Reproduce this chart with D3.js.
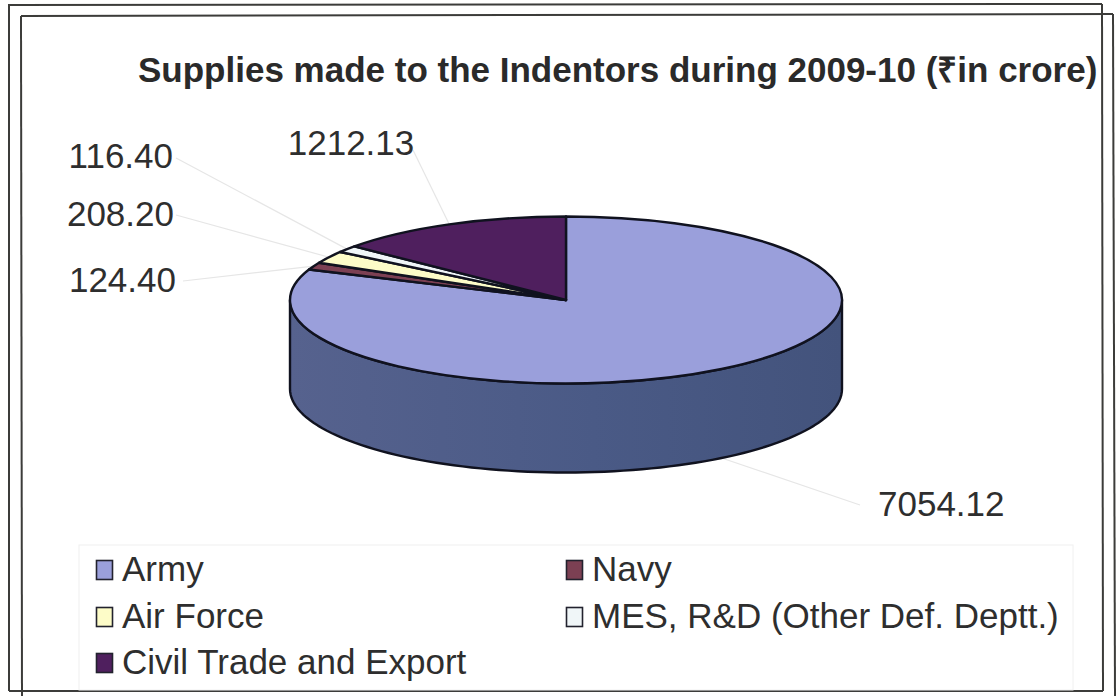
<!DOCTYPE html>
<html>
<head>
<meta charset="utf-8">
<script src="https://cdn.jsdelivr.net/npm/d3@7"></script>
<style>
  html, body { margin: 0; padding: 0; background: #fff; overflow: hidden; }
  svg { display: block; font-family: "Liberation Sans", Arial, sans-serif; }
</style>
</head>
<body>
<svg id="chart" width="1116" height="696"></svg>
<script>
// Supplies by indentor, in crore of rupees
const categories = ["Army", "Navy", "Air Force", "MES, R&D (Other Def. Deptt.)", "Civil Trade and Export"];
const values = [7054.12, 124.40, 208.20, 116.40, 1212.13];
const valueLabels = ["7054.12", "124.40", "208.20", "116.40", "1212.13"];
const topColors = ["#9a9fdb", "#7c4053", "#fdfcc8", "#f0f6f8", "#4f1f5e"];
const titleText = "Supplies made to the Indentors during 2009-10 (₹in crore)";

// Disc geometry
const cx = 566, cy = 300, rx = 276, ry = 83.5, depth = 89;
const outline = "#10121f";

// Where each value label sits and where its leader stops
const labelLayout = [
  { x: 878, y: 516, anchor: "start", lx: 860, ly: 505 },
  { x: 176, y: 292, anchor: "end", lx: 183, ly: 281 },
  { x: 174, y: 226, anchor: "end", lx: 176, ly: 215 },
  { x: 173, y: 168, anchor: "end", lx: 176, ly: 158 },
  { x: 351, y: 155, anchor: "middle", lx: 413, ly: 150 }
];
// Legend cells: column x and row baseline
const legendCols = [96, 566];
const legendRows = [581, 628, 674];
const legendCells = [[0, 0], [1, 0], [0, 1], [1, 1], [0, 2]];

const svg = d3.select("#chart");

// Hand-ruled double frame
const frameLines = [
  [8, 5, 1102, 4], [1102, 4, 1103, 691], [9, 5, 9, 691], [9, 691, 1103, 691],
  [21, 16, 1113, 14], [21, 16, 22, 696], [1113, 14, 1115, 696]
];
svg.append("g").selectAll("line").data(frameLines).join("line")
  .attr("x1", d => d[0]).attr("y1", d => d[1])
  .attr("x2", d => d[2]).attr("y2", d => d[3])
  .attr("stroke", "#3c3c3a").attr("stroke-width", 2);

// Legend panel, barely visible against the page
svg.append("rect")
  .attr("x", 79).attr("y", 545).attr("width", 994).attr("height", 145)
  .attr("fill", "#fff").attr("stroke", "#f0f0f0");

svg.append("text")
  .attr("x", 138).attr("y", 82)
  .attr("font-size", 35).attr("font-weight", 700).attr("fill", "#2a2a2a")
  .text(titleText);

const pie = d3.pie().sort(null).value(d => d)
  .startAngle(0).endAngle(2 * Math.PI);
const arcs = pie(values);
const rimX = a => cx + rx * Math.sin(a);
const rimY = a => cy - ry * Math.cos(a);

// Leader lines run under the disc
arcs.forEach((d, i) => d.mid = (d.startAngle + d.endAngle) / 2);
svg.append("g").selectAll("line").data(arcs).join("line")
  .attr("x1", d => rimX(d.mid))
  .attr("y1", d => rimY(d.mid) + (Math.cos(d.mid) < 0 ? depth : 0))
  .attr("x2", (d, i) => labelLayout[i].lx)
  .attr("y2", (d, i) => labelLayout[i].ly)
  .attr("stroke", "#e6e6e6").attr("stroke-width", 1.2);

// Front wall of the disc, shaded left to right
const defs = svg.append("defs");
const wallGrad = defs.append("linearGradient").attr("id", "wall");
wallGrad.append("stop").attr("offset", "0%").attr("stop-color", "#56628e");
wallGrad.append("stop").attr("offset", "55%").attr("stop-color", "#4a5a86");
wallGrad.append("stop").attr("offset", "100%").attr("stop-color", "#43537c");

const wallAngles = d3.range(90, 270.01, 2).map(d => d * Math.PI / 180);
const wall = d3.area()
  .x(rimX)
  .y0(rimY)
  .y1(a => rimY(a) + depth);
svg.append("path")
  .attr("d", wall(wallAngles))
  .attr("fill", "url(#wall)")
  .attr("stroke", outline).attr("stroke-width", 2.4).attr("stroke-linejoin", "round");

// Top face: a circular pie squashed into an ellipse
const arc = d3.arc().innerRadius(0).outerRadius(rx);
svg.append("g")
  .attr("transform", `translate(${cx},${cy}) scale(1,${ry / rx})`)
  .selectAll("path").data(arcs).join("path")
  .attr("d", arc)
  .attr("fill", (d, i) => topColors[i])
  .attr("stroke", outline).attr("stroke-width", 2.4)
  .attr("stroke-linejoin", "round")
  .attr("vector-effect", "non-scaling-stroke");

// Value labels
svg.append("g").selectAll("text").data(valueLabels).join("text")
  .attr("x", (d, i) => labelLayout[i].x)
  .attr("y", (d, i) => labelLayout[i].y)
  .attr("text-anchor", (d, i) => labelLayout[i].anchor)
  .attr("font-size", 35).attr("fill", "#2e2e2e")
  .text(d => d);

// Legend
const legend = svg.append("g").selectAll("g").data(categories).join("g")
  .attr("transform", (d, i) => `translate(${legendCols[legendCells[i][0]]},${legendRows[legendCells[i][1]]})`);
legend.append("rect")
  .attr("x", 0.5).attr("y", -20.5).attr("width", 16).attr("height", 19)
  .attr("fill", (d, i) => topColors[i])
  .attr("stroke", "#22222e").attr("stroke-width", 1.6);
legend.append("text")
  .attr("x", 26).attr("y", 0)
  .attr("font-size", 35).attr("fill", "#2e2e2e")
  .text(d => d);
</script>
</body>
</html>
